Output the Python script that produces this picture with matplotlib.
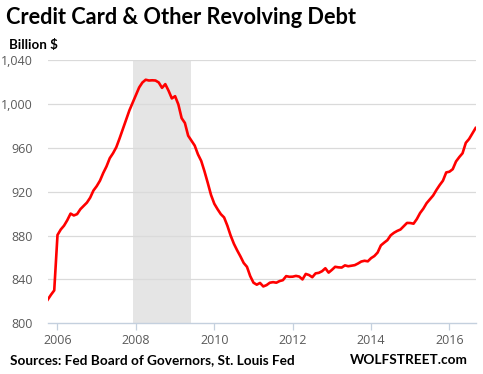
import matplotlib
matplotlib.use("Agg")
import matplotlib.pyplot as plt
import numpy as np

# ---- data (monthly, Oct 2005 .. Sep 2016), billion $ ----
start_year = 2005.75
values = [
    821.5, 826.0, 830.0,
    880.5, 885.5, 889.0, 894.0, 900.0, 898.3, 899.5, 904.0, 907.0, 910.0, 914.5, 921.0,
    925.0, 930.0, 937.0, 943.0, 950.5, 955.0, 960.5, 968.5, 977.0, 985.5, 994.0, 1001.0,
    1008.0, 1015.0, 1019.5, 1022.0, 1021.3, 1021.5, 1021.3, 1019.5, 1014.6, 1018.0, 1012.0, 1005.0,
    1007.0, 999.5, 987.0, 982.6, 971.0, 966.5, 962.0, 954.0, 948.0, 938.5, 928.0, 917.0,
    909.0, 904.0, 899.5, 896.5, 889.0, 880.0, 872.5, 866.5, 861.0, 855.0, 851.5, 843.0,
    837.0, 835.2, 836.8, 833.6, 834.8, 837.0, 837.5, 837.0, 838.5, 839.3, 843.0, 842.4,
    842.5, 843.2, 842.6, 840.0, 845.0, 844.0, 842.0, 845.5, 846.0, 847.5, 850.2, 846.2,
    848.7, 851.5, 851.0, 850.8, 852.8, 852.0, 852.5, 853.0, 854.5, 856.3, 857.0, 856.5,
    859.4, 861.3, 864.5, 871.0, 873.5, 875.8, 880.2, 882.5, 884.2, 885.5, 888.5, 891.5,
    891.4, 890.8, 895.0, 900.5, 904.5, 909.5, 913.0, 916.5, 921.5, 926.0, 930.0, 937.5,
    938.2, 940.5, 947.5, 951.5, 955.0, 964.5, 968.0, 973.0, 978.0,
]
years = [start_year + i / 12 for i in range(len(values))]
recession = (2007.917, 2009.417)
yticks = [800, 840, 880, 920, 960, 1000, 1040]
xticks = [2006, 2008, 2010, 2012, 2014, 2016]

title = "Credit Card & Other Revolving Debt"
ylabel = "Billion $"
source = "Sources: Fed Board of Governors, St. Louis Fed"
brand = "WOLFSTREET.com"

W, H = 483, 374
fig = plt.figure(figsize=(W / 100, H / 100), dpi=100)

def fx(px):
    return px / W

def fy(py):
    return 1 - py / H

left, right, top, bottom = 47.7, 476.0, 60.0, 323.3
ax = fig.add_axes([fx(left), fy(bottom), fx(right) - fx(left), fy(top) - fy(bottom)])

ax.axvspan(recession[0], recession[1], color="#e5e5e5", zorder=0, lw=0)
for yt in yticks[1:]:
    ax.axhline(yt, color="#dadada", lw=0.9, zorder=1)
ax.plot(years, values, color="#ff0000", lw=1.9, zorder=3, solid_joinstyle="round")

ax.set_xlim(2005.75, years[-1] + 0.01)
ax.set_ylim(800, 1040)
ax.set_yticks(yticks)
ax.set_yticklabels([f"{v:,}" for v in yticks])
ax.set_xticks(xticks)
ax.set_xticklabels([str(x) for x in xticks])

for s in ["top", "right", "left"]:
    ax.spines[s].set_visible(False)
ax.spines["bottom"].set_color("#c4d0de")
ax.spines["bottom"].set_linewidth(1.0)

ax.tick_params(axis="y", length=0, pad=11)
ax.tick_params(axis="x", length=5, width=0.9, color="#c4d0de", pad=3)
for lab in ax.get_yticklabels() + ax.get_xticklabels():
    lab.set_fontfamily("Open Sans")
    lab.set_fontsize(9)
    lab.set_color("#5a5a5a")

fig.text(fx(6.5), fy(23.5), title, fontfamily="Lato", fontweight="bold",
         fontsize=15.7, color="black", va="baseline", ha="left")
fig.text(fx(9.3), fy(49.3), ylabel, fontfamily="Lato", fontweight="bold",
         fontsize=9.6, color="black", va="baseline", ha="left")
fig.text(fx(10), fy(364), source, fontfamily="Lato", fontweight="bold",
         fontsize=9.8, color="black", va="baseline", ha="left")
fig.text(fx(468), fy(364), brand, fontfamily="Lato", fontweight="bold",
         fontsize=9.8, color="black", va="baseline", ha="right")

fig.savefig("out.png", dpi=100)
